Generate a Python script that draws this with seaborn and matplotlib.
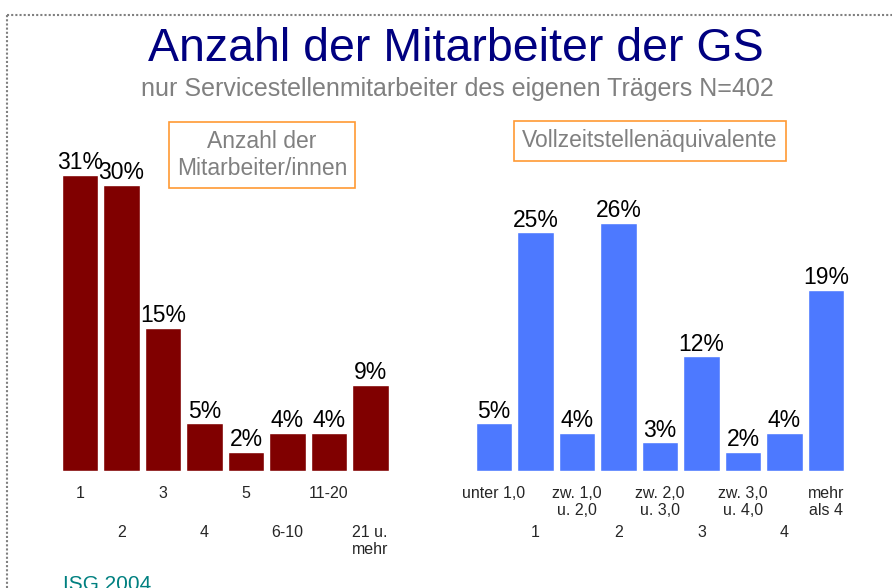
import matplotlib
matplotlib.use("Agg")
import matplotlib.pyplot as plt
import seaborn as sns
import pandas as pd
from matplotlib.lines import Line2D

# ==========================================
# DATA
# ==========================================
kat_personen = ["1", "2", "3", "4", "5", "6-10", "11-20", "21 u.\nmehr"]
wert_personen = [31, 30, 15, 5, 2, 4, 4, 9]

kat_vze = ["unter 1,0", "1", "zw. 1,0\nu. 2,0", "2", "zw. 2,0\nu. 3,0", "3",
           "zw. 3,0\nu. 4,0", "4", "mehr\nals 4"]
wert_vze = [5, 25, 4, 26, 3, 12, 2, 4, 19]

titel = "Anzahl der Mitarbeiter der GS"
untertitel = "nur Servicestellenmitarbeiter des eigenen Trägers N=402"
box_links = "Anzahl der\nMitarbeiter/innen"
box_rechts = "Vollzeitstellenäquivalente"
quelle = "ISG 2004"

# ==========================================
# STYLE
# ==========================================
sns.set_style("white")
plt.rcParams["font.family"] = ["Liberation Sans", "DejaVu Sans"]

W, H = 892, 588
fig = plt.figure(figsize=(W / 100, H / 100), dpi=100)

px = 41.5      # pixel pro Kategorie
py = 9.55      # pixel pro Prozent
basis = 471    # y der Grundlinie in pixel
ymax = 35


def achse(x_erste_mitte, n):
    links = x_erste_mitte - 0.6 * px
    breite = (n - 1 + 1.2) * px
    hoehe = ymax * py
    return fig.add_axes([links / W, (H - basis) / H, breite / W, hoehe / H])


def zeichne(ax, kategorien, werte, farbe):
    df = pd.DataFrame({"kat": kategorien, "wert": werte})
    sns.barplot(data=df, x="kat", y="wert", order=kategorien, color=farbe,
                width=0.87, saturation=1, ax=ax)
    for c in ax.containers:
        ax.bar_label(c, labels=[f"{v}%" for v in werte], padding=0.5,
                     fontsize=16.5, color="black")
    ax.set_xlim(-0.6, len(kategorien) - 0.4)
    ax.set_ylim(0, ymax)
    ax.set_xticks([])
    ax.set_yticks([])
    ax.set_xlabel("")
    ax.set_ylabel("")
    sns.despine(ax=ax, left=True, bottom=True)
    ax.patch.set_alpha(0)


def beschrifte(ax, kategorien, ausrichtung):
    # versetzte Kategorienbeschriftung in zwei Reihen
    for i, lab in enumerate(kategorien):
        dy = 15 if i % 2 == 0 else 54
        ax.annotate(lab, xy=(i, 0), xycoords=("data", "axes fraction"),
                    xytext=(0, -dy), textcoords="offset pixels",
                    ha="center", va="top", fontsize=11.5, linespacing=1.15,
                    multialignment=ausrichtung)


ax1 = achse(80, len(kat_personen))
zeichne(ax1, kat_personen, wert_personen, "#800000")
beschrifte(ax1, kat_personen, "left")

ax2 = achse(494, len(kat_vze))
zeichne(ax2, kat_vze, wert_vze, "#4D79FF")
beschrifte(ax2, kat_vze, "center")

# ==========================================
# TITEL, BOXEN, RAHMEN
# ==========================================
fig.text(456 / W, 1 - 49 / H, titel, ha="center", va="center",
         fontsize=33.5, color="#000080")
fig.text(457 / W, 1 - 89 / H, untertitel, ha="center", va="center",
         fontsize=18, color="#808080")

rahmen = dict(boxstyle="square,pad=0.36", facecolor="white",
              edgecolor="#FF9933", linewidth=1.2)
fig.text(262 / W, 1 - 155 / H, box_links, ha="center", va="center",
         fontsize=16.5, color="#808080", linespacing=1.2, bbox=rahmen)
fig.text(650 / W, 1 - 141 / H, box_rechts, ha="center", va="center",
         fontsize=16.5, color="#808080", bbox=rahmen)

fig.text(63 / W, 1 - 590 / H, quelle, ha="left", va="baseline",
         fontsize=15, color="#008080")

fig.add_artist(Line2D([7 / W, 7 / W], [0, 1 - 15 / H], transform=fig.transFigure,
                      color="#808080", linewidth=1.5, linestyle=(0, (1, 1))))
fig.add_artist(Line2D([7 / W, 1], [1 - 15 / H, 1 - 15 / H], transform=fig.transFigure,
                      color="#808080", linewidth=1.5, linestyle=(0, (1, 1))))

fig.savefig("out.png", dpi=100)
